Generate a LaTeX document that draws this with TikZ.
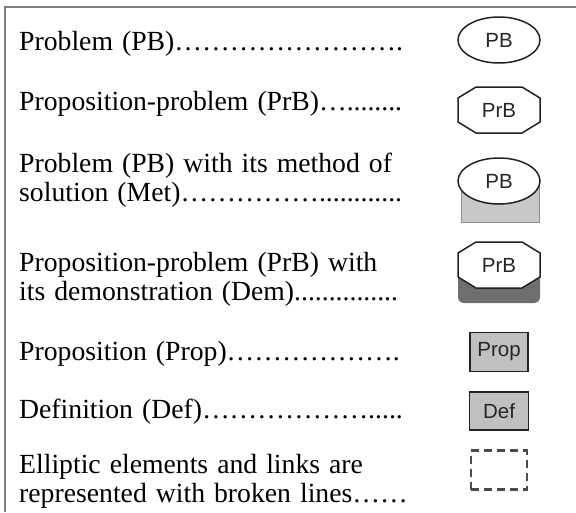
\documentclass[tikz,border=0pt]{standalone}
\usepackage{fontspec}
\setmainfont{Liberation Serif}[WordSpace=1.3]
\newfontfamily\labelfont{Liberation Sans}
\usetikzlibrary{shapes.geometric}
\definecolor{framegray}{HTML}{808080}
\definecolor{lightfill}{HTML}{C8C8C8}
\definecolor{boxfill}{HTML}{C0C0C0}
\definecolor{darkfill}{HTML}{6E6E6E}
\definecolor{linegray}{HTML}{222222}
\newcommand\octpath[1]{(#1) ++(-41,-12) -- ++(18,-11) -- ++(46,0) -- ++(18,11) -- ++(0,24) -- ++(-18,11) -- ++(-46,0) -- ++(-18,-11) -- cycle}
\begin{document}
\begin{tikzpicture}[x=1pt,y=-1pt,
  txt/.style={anchor=base west, inner sep=0pt, font=\fontsize{27.7}{29}\selectfont},
  lbl/.style={inner sep=0pt, font=\labelfont\fontsize{20.5}{22}\selectfont, text=black!85},
  frame/.style={draw=framegray, line width=1.6pt},
  shapeline/.style={draw=linegray, line width=1.5pt},
  ovalshape/.style={ellipse, shapeline, fill=white, minimum width=82, minimum height=46, inner sep=0pt, font=\labelfont\fontsize{20.5}{22}\selectfont, text=black!85},
  greybox/.style={rectangle, shapeline, fill=boxfill, inner sep=0pt, font=\labelfont\fontsize{20.5}{22}\selectfont, text=black!85}
]
\useasboundingbox (0,0) rectangle (576,512);
\draw[frame] (576,7) -- (5,7) -- (5,512);

% texts
\node[txt] (t1) at (19,50) {Problem (PB)…………………….};
\node[txt] (t2) at (19,110) {Proposition-problem (PrB)…........};
\node[txt] (t3a) at (19,172) {Problem (PB) with its method of};
\node[txt] (t3b) at (19,201) {solution (Met)……………............};
\node[txt] (t4a) at (19,271) {Proposition-problem (PrB) with};
\node[txt] (t4b) at (19,300) {its demonstration (Dem)...............};
\node[txt] (t5) at (19,360) {Proposition (Prop)……………….};
\node[txt] (t6) at (19,418) {Definition (Def)……………….....};
\node[txt] (t7a) at (19,473) {Elliptic elements and links are};
\node[txt] (t7b) at (19,502) {represented with broken lines……};

% 1 problem
\node[ovalshape] (pb) at (499,40) {PB};

% 2 proposition-problem
\coordinate (prbc) at (499,110);
\draw[shapeline, fill=white] \octpath{prbc};
\node[lbl] (prb) at (prbc) {PrB};

% 3 problem with method
\draw[draw=black!45, line width=0.8pt, fill=lightfill] (461,181) rectangle (539,222);
\node[ovalshape] (pbm) at (499,181) {PB};

% 4 proposition-problem with demonstration
\fill[darkfill, rounded corners=6pt] (458,262) rectangle (540,303);
\coordinate (prbdc) at (499,265);
\draw[shapeline, fill=white] \octpath{prbdc};
\node[lbl] (prbd) at (prbdc) {PrB};

% 5 proposition
\node[greybox, minimum width=58, minimum height=39] (prop) at (499,352) {Prop};

% 6 definition
\node[greybox, minimum width=59, minimum height=38] (def) at (499,411) {Def};

% 7 elliptic
\node[rectangle, draw=black!70, line width=2.1pt, dash pattern=on 8pt off 5pt, minimum width=56, minimum height=39] (ell) at (499,470) {};
\end{tikzpicture}
\end{document}
